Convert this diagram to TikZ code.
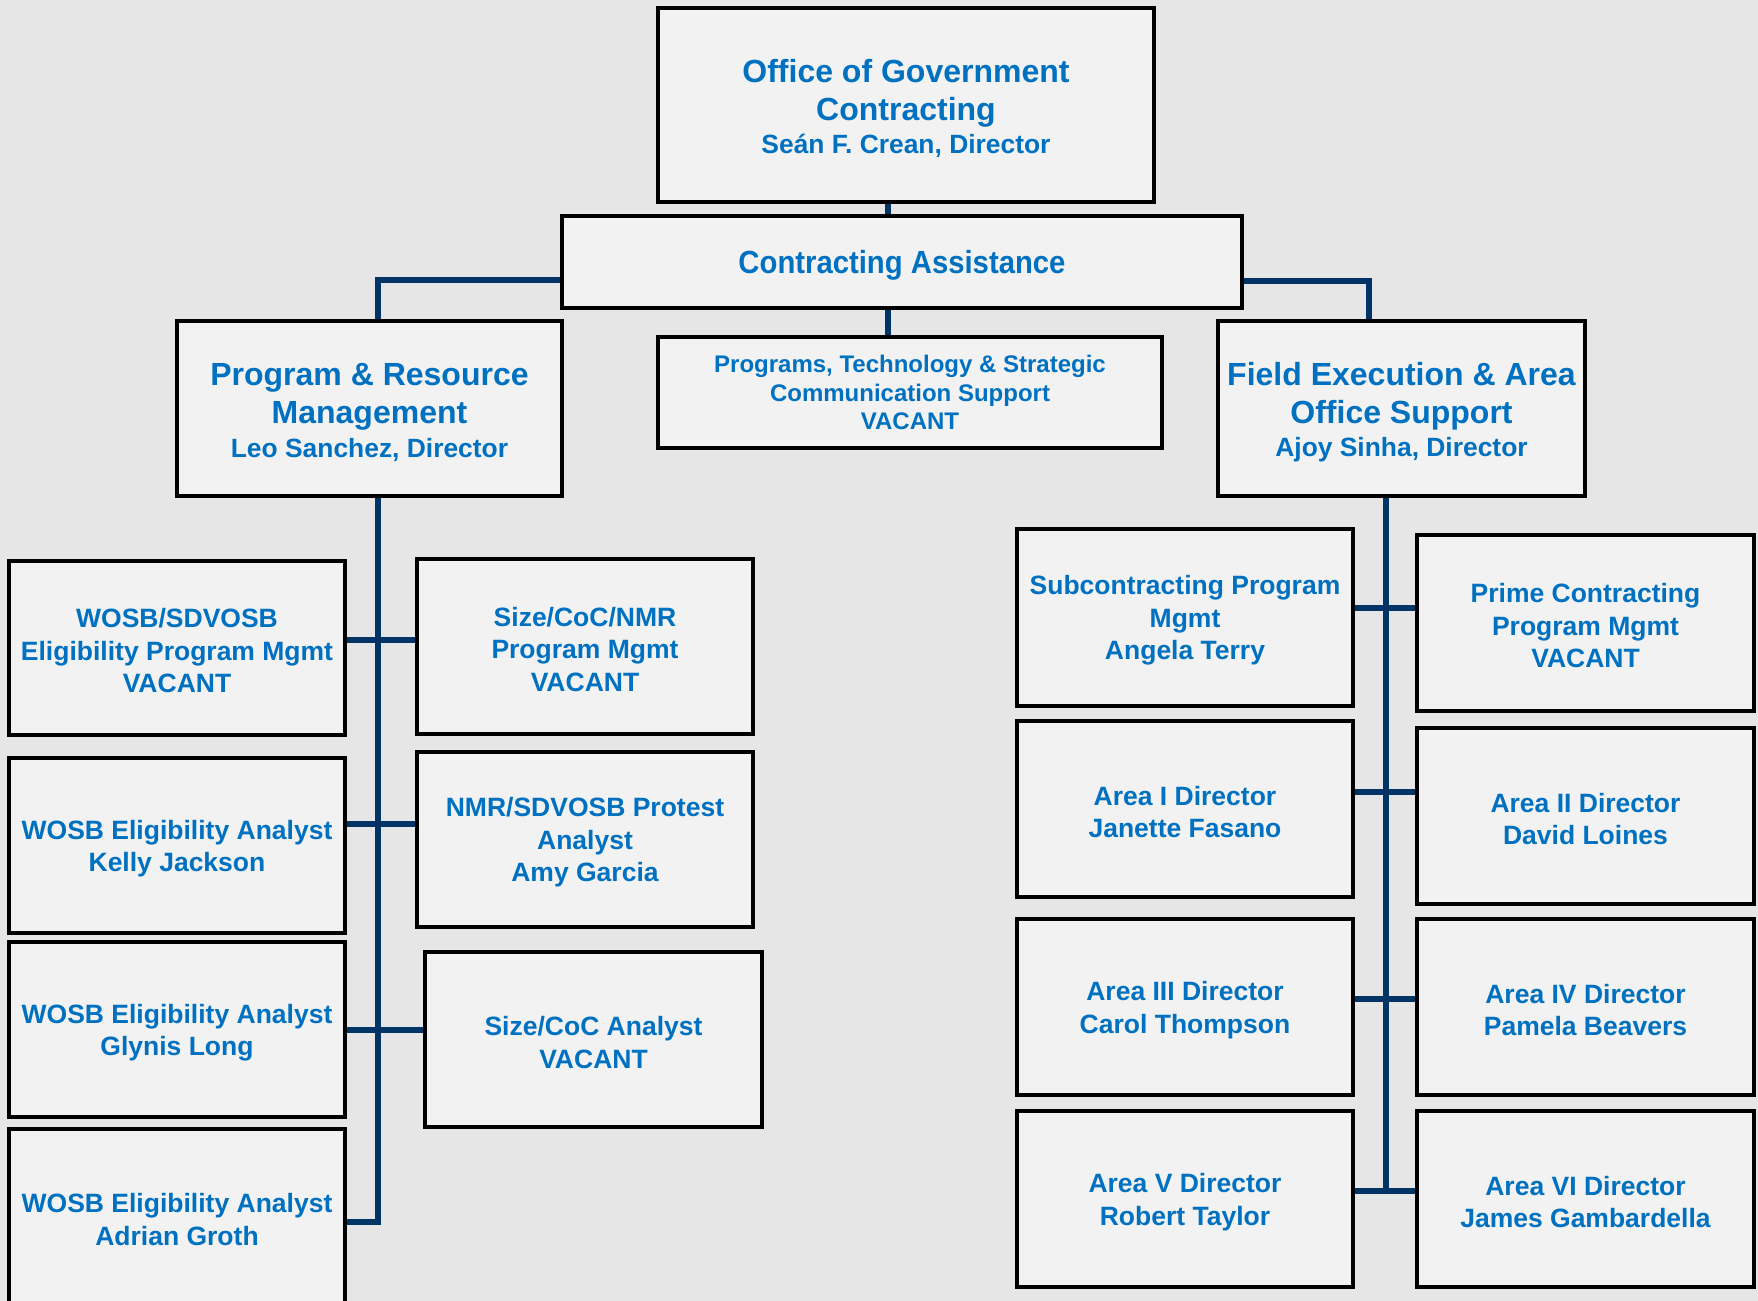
\documentclass[tikz,border=0pt]{standalone}
\usepackage{fontspec}
\setmainfont{Liberation Sans}
\usepackage{tikz}
\usetikzlibrary{positioning}

\definecolor{paper}{HTML}{E6E6E6}
\definecolor{boxfill}{HTML}{F2F2F2}
\definecolor{sbablue}{HTML}{0070C0}
\definecolor{linknavy}{HTML}{003366}

\newcommand{\headfont}{\bfseries\fontsize{16}{19}\selectfont}
\newcommand{\namefont}{\bfseries\fontsize{13.2}{17}\selectfont}
\newcommand{\bodyfont}{\bfseries\fontsize{13.25}{16.25}\selectfont}
\newcommand{\smallbody}{\bfseries\fontsize{12}{14.3}\selectfont}
% pushes the first line of a box down a little
\newcommand{\toppad}{\rule{0pt}{0.95em}}

\tikzset{
  unit/.style={draw=black, line width=2pt, fill=boxfill, text=sbablue,
    align=center, inner sep=2pt, font=\bodyfont},
  dims/.style 2 args={minimum width=#1*0.5pt, minimum height=#2*0.5pt},
  link/.style={draw=linknavy, line width=2.8pt},
}

\begin{document}
\begin{tikzpicture}[x=0.5pt, y=-0.5pt]
        % Page and background
        \useasboundingbox (0,0) rectangle (1758,1301);
        \clip (0,0) rectangle (1758,1301);
        \fill[paper] (0,0) rectangle (1758,1301);

        % Head office
        \node[unit, dims={496}{194}, font=\headfont] (ogc) at (906,105)
          {\toppad Office of Government\\Contracting\\[-2.2pt]\namefont Seán F. Crean, Director};
        \node[unit, dims={680}{92}, font=\headfont\addfontfeature{FakeStretch=0.915}] (ca) at (902,262)
          {\toppad Contracting Assistance};

        % Second level
        \node[unit, dims={385}{175}, font=\headfont] (prm) at (369.5,408.5)
          {\toppad Program \& Resource\\Management\\[-2.2pt]\namefont Leo Sanchez, Director};
        \node[unit, dims={504}{111}, font=\smallbody] (ptsc) at (910,392.5)
          {Programs, Technology \& Strategic\\Communication Support\\VACANT};
        \node[unit, dims={367}{175}, font=\headfont] (fea) at (1401.5,408.5)
          {\toppad Field Execution \& Area\\Office Support\\[-2.2pt]\namefont Ajoy Sinha, Director};

        % Program & Resource Management staff
        \node[unit, dims={336}{174}] (elig) at (177,648) {\toppad WOSB/SDVOSB\\Eligibility Program Mgmt\\VACANT};
        \node[unit, dims={336}{175}] (kelly) at (177,845.5) {\toppad WOSB Eligibility Analyst\\Kelly Jackson};
        \node[unit, dims={336}{175}] (glynis) at (177,1029.5) {\toppad WOSB Eligibility Analyst\\Glynis Long};
        \node[unit, dims={336}{175}] (adrian) at (177,1216.5) {\toppad WOSB Eligibility Analyst\\Adrian Groth};
        \node[unit, dims={336}{175}] (sizenmr) at (585,646.5) {\toppad Size/CoC/NMR\\Program Mgmt\\VACANT};
        \node[unit, dims={336}{175}] (protest) at (585,839.5) {\toppad NMR/SDVOSB Protest\\Analyst\\Amy Garcia};
        \node[unit, dims={337}{175}] (sizecoc) at (593.5,1039.5) {\toppad Size/CoC Analyst\\VACANT};

        % Field Execution staff
        \node[unit, dims={336}{177}] (subk) at (1185,617.5) {\toppad Subcontracting Program\\Mgmt\\Angela Terry};
        \node[unit, dims={336}{176}] (areaI) at (1185,809) {\toppad Area I Director\\Janette Fasano};
        \node[unit, dims={336}{176}] (areaIII) at (1185,1007) {\toppad Area III Director\\Carol Thompson};
        \node[unit, dims={336}{176}] (areaV) at (1185,1199) {\toppad Area V Director\\Robert Taylor};
        \node[unit, dims={337}{176}] (prime) at (1585.5,623) {\toppad Prime Contracting\\Program Mgmt\\VACANT};
        \node[unit, dims={337}{176}] (areaII) at (1585.5,816) {\toppad Area II Director\\David Loines};
        \node[unit, dims={337}{176}] (areaIV) at (1585.5,1007) {\toppad Area IV Director\\Pamela Beavers};
        \node[unit, dims={337}{176}] (areaVI) at (1585.5,1199) {\toppad Area VI Director\\James Gambardella};

        % Connectors, top
        \coordinate (spine) at (888,0);
        \coordinate (lbend) at (378,280);
        \coordinate (rbend) at (1369,281);
        \draw[link] (ogc.south -| spine) -- (ca.north -| spine);
        \draw[link] (ca.south -| spine) -- (ptsc.north -| spine);
        \draw[link] (ca.west |- lbend) -- (lbend) -- (prm.north -| lbend);
        \draw[link] (ca.east |- rbend) -- (rbend) -- (fea.north -| rbend);

        % Left trunk
        \coordinate (lend) at (378,1222);
        \draw[link] (prm.south -| lend) -- (lend) -- (adrian.east |- lend);
        \foreach \l/\r/\y in {elig/sizenmr/640, kelly/protest/824, glynis/sizecoc/1030} {
          \coordinate (tie) at (378,\y);
          \draw[link] (\l.east |- tie) -- (\r.west |- tie);
        }

        % Right trunk
        \coordinate (rend) at (1386,1191);
        \draw[link] (fea.south -| rend) -- (rend);
        \foreach \l/\r/\y in {subk/prime/608, areaI/areaII/792, areaIII/areaIV/999, areaV/areaVI/1191} {
          \coordinate (tie) at (1386,\y);
          \draw[link] (\l.east |- tie) -- (\r.west |- tie);
        }

    \end{tikzpicture}
\end{document}
